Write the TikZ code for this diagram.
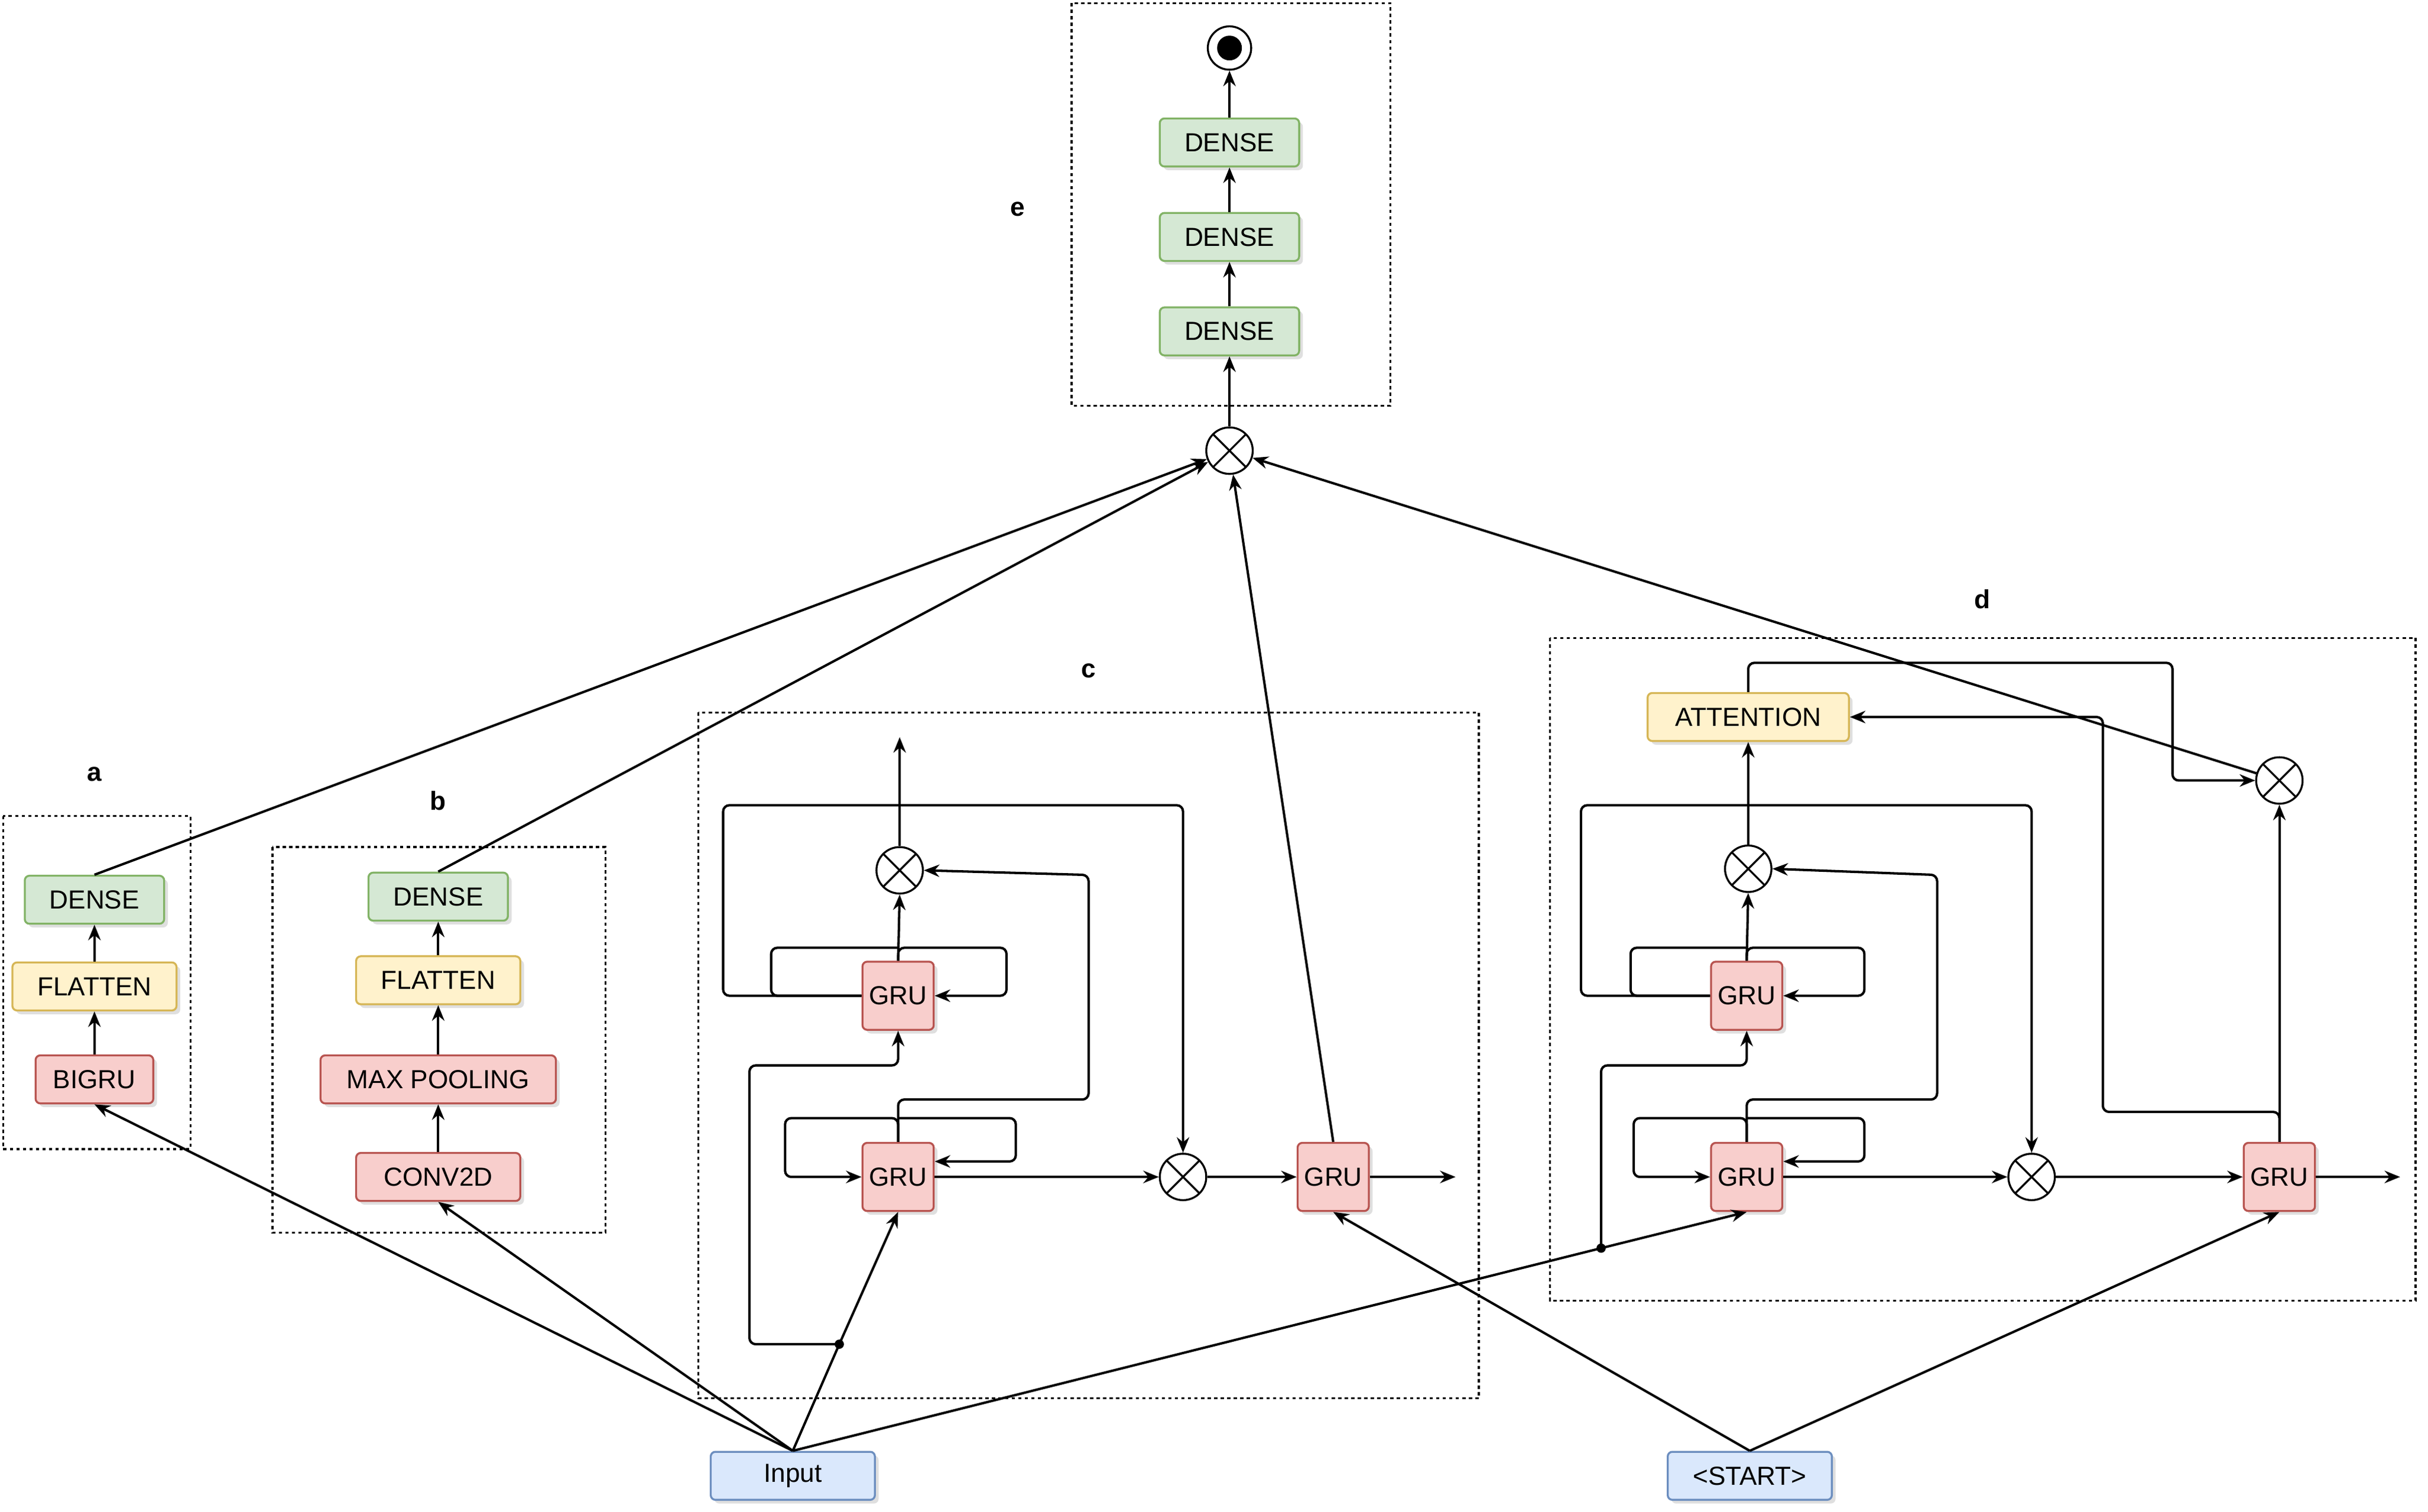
\documentclass[tikz,border=0pt]{standalone}
\usepackage{fontspec}
\setmainfont{Liberation Sans}
\usetikzlibrary{arrows.meta,shadows}
\definecolor{gf}{HTML}{D5E8D4}\definecolor{gd}{HTML}{82B366}
\definecolor{yf}{HTML}{FFF2CC}\definecolor{yd}{HTML}{D6B656}
\definecolor{rf}{HTML}{F8CECC}\definecolor{rd}{HTML}{B85450}
\definecolor{bf}{HTML}{DAE8FC}\definecolor{bd}{HTML}{6C8EBF}
\begin{document}
\begin{tikzpicture}[x=0.5mm,y=-0.5mm,
 every node/.style={font=\fontsize{24}{28}\selectfont},
 box/.style={draw,rounded corners=1.5mm,line width=1.8pt,minimum height=15.5mm,inner xsep=2mm,drop shadow={shadow xshift=1.2mm,shadow yshift=-1.2mm,fill=black!25}},
 G/.style={box,fill=gf,draw=gd},Y/.style={box,fill=yf,draw=yd},R/.style={box,fill=rf,draw=rd},B/.style={box,fill=bf,draw=bd},
 gru/.style={R,minimum width=23mm,minimum height=22mm,inner sep=0pt},
 mul/.style={circle,draw,line width=1.8pt,fill=white,minimum size=15mm,inner sep=0pt,path picture={\draw[line width=1.8pt](path picture bounding box.north west)--(path picture bounding box.south east)(path picture bounding box.north east)--(path picture bounding box.south west);}},
 frame/.style={draw,dashed,line width=1.8pt},
 lab/.style={font=\fontsize{24}{28}\selectfont\bfseries},
 ar/.style={-{Stealth[length=5mm,width=4mm]},line width=2.2pt},
 ln/.style={line width=2.2pt,rounded corners=2mm},
 dot/.style={circle,fill,inner sep=0pt,minimum size=3mm}]
\useasboundingbox (0,0) rectangle (1568,976);
\draw[frame] (692,2) rectangle (898,262);
\draw[frame] (2,527) rectangle (123,742);
\draw[frame] (176,547) rectangle (391,796);
\draw[frame] (451,460) rectangle (955,903);
\draw[frame] (1001,412) rectangle (1560,840);
\node[lab] at (657,135) {e};\node[lab] at (61,500) {a};\node[lab] at (283,517) {b};
\node[lab] at (703,433) {c};\node[lab] at (1280,387) {d};
% e
\node[circle,draw,line width=1.8pt,minimum size=14mm,inner sep=0pt] (end) at (794,31) {};
\fill (794,31) circle (8);
\node[G,minimum width=45mm] (e3) at (794,92) {DENSE};
\node[G,minimum width=45mm] (e2) at (794,153) {DENSE};
\node[G,minimum width=45mm] (e1) at (794,214) {DENSE};
\node[mul] (m0) at (794,291) {};
\draw[ar] (m0)--(e1);\draw[ar] (e1)--(e2);\draw[ar] (e2)--(e3);\draw[ar] (e3)--(end);
% a
\node[G,minimum width=45mm] (ad) at (61,581) {DENSE};
\node[Y,minimum width=53mm] (af) at (61,637) {FLATTEN};
\node[R,minimum width=38mm] (ab) at (61,697) {BIGRU};
\draw[ar] (ab)--(af);\draw[ar] (af)--(ad);
% b
\node[G,minimum width=45mm] (bd) at (283,579) {DENSE};
\node[Y,minimum width=53mm] (bfl) at (283,633) {FLATTEN};
\node[R,minimum width=76mm] (bm) at (283,697) {MAX POOLING};
\node[R,minimum width=53mm] (bc) at (283,760) {CONV2D};
\draw[ar] (bc)--(bm);\draw[ar] (bm)--(bfl);\draw[ar] (bfl)--(bd);
% inputs
\node[B,minimum width=53mm] (in) at (512,953) {Input};
\node[B,minimum width=53mm] (st) at (1130,953) {<START>};
\draw[ar] (in.north)--(ab.south);
\draw[ar] (in.north)--(bc.south);
\draw[ar] (ad.north)--(m0);\draw[ar] (bd.north)--(m0);
% c
\node[gru] (c1) at (580,760) {GRU};
\node[gru] (c2) at (580,643) {GRU};
\node[mul] (cx1) at (581,562) {};
\node[mul] (cx2) at (764,760) {};
\node[gru] (c3) at (861,760) {GRU};
\coordinate (cd) at (542,868);\node[dot] at (cd) {};
\coordinate (cout) at (940,760);\coordinate (ctop) at (581,476);
\draw[ar] (in.north)--(cd)--(c1.south);
\draw[ar,ln] (cd)--(484,868)--(484,688)--(580,688)--(c2.south);
\draw[ar,ln] (c1.north)--(580,722)--(507,722)--(507,760)--(c1.west);
\draw[ar,ln] (580,722)--(656,722)--(656,750)--(c1.east|-0,750);
\draw[ar,ln] (c1.north)--(580,710)--(703,710)--(703,565)--(cx1.east);
\draw[ar] (c2.north)--(cx1.south);
\draw[ar,ln] (c2.north)--(580,612)--(650,612)--(650,643)--(c2.east);
\draw[ln] (580,612)--(498,612)--(498,643)--(c2.west);
\draw[ar] (cx1.north)--(ctop);
\draw[ar,ln] (c2.west)--(467,643)--(467,520)--(764,520)--(cx2.north);
\draw[ar] (c1.east)--(cx2.west);\draw[ar] (cx2.east)--(c3.west);
\draw[ar] (c3.east)--(cout);
\draw[ar] (c3.north)--(m0);
\draw[ar] (st.north)--(c3.south);
% d
\node[gru] (d1) at (1128,760) {GRU};
\node[gru] (d2) at (1128,643) {GRU};
\node[mul] (dx1) at (1129,561) {};
\node[Y,minimum width=65mm] (att) at (1129,463) {ATTENTION};
\node[mul] (dx2) at (1312,760) {};
\node[gru] (d3) at (1472,760) {GRU};
\node[mul] (dx3) at (1472,504) {};
\coordinate (dd) at (1034,806);\node[dot] at (dd) {};
\coordinate (dout) at (1550,760);
\draw[ar] (in.north)--(dd)--(d1.south);
\draw[ar,ln] (dd)--(1034,688)--(1128,688)--(d2.south);
\draw[ar,ln] (d1.north)--(1128,722)--(1055,722)--(1055,760)--(d1.west);
\draw[ar,ln] (1128,722)--(1204,722)--(1204,750)--(d1.east|-0,750);
\draw[ar,ln] (d1.north)--(1128,710)--(1251,710)--(1251,565)--(dx1.east);
\draw[ar] (d2.north)--(dx1.south);
\draw[ar,ln] (d2.north)--(1128,612)--(1204,612)--(1204,643)--(d2.east);
\draw[ln] (1128,612)--(1053,612)--(1053,643)--(d2.west);
\draw[ar] (dx1.north)--(att.south);
\draw[ar,ln] (d2.west)--(1021,643)--(1021,520)--(1312,520)--(dx2.north);
\draw[ar] (d1.east)--(dx2.west);\draw[ar] (dx2.east)--(d3.west);
\draw[ar] (d3.east)--(dout);
\draw[ar] (d3.north)--(dx3.south);
\draw[ar,ln] (d3.north)--(1472,718)--(1358,718)--(1358,463)--(att.east);
\draw[ar,ln] (att.north)--(1129,428)--(1403,428)--(1403,504)--(dx3.west);
\draw[ar] (dx3)--(m0);
\draw[ar] (st.north)--(d3.south);
\end{tikzpicture}
\end{document}
